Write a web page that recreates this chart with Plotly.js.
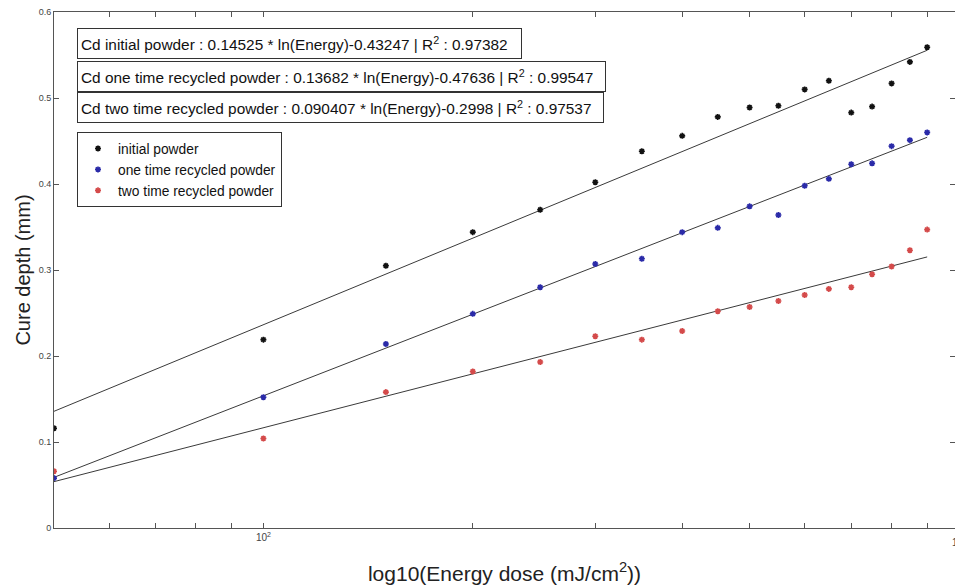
<!DOCTYPE html>
<html>
<head>
<meta charset="utf-8">
<script src="https://cdn.plot.ly/plotly-3.0.1.min.js"></script>
<style>html,body{margin:0;padding:0;background:#fff;overflow:hidden;}#chart{width:955px;height:586px;}</style>
</head>
<body>
<div id="chart"></div>
<script>
// Energy dose (mJ/cm2)
const energy = [50,100,150,200,250,300,350,400,450,500,550,600,650,700,750,800,850,900];
// Cure depth (mm)
const initialPowder = [0.116,0.219,0.305,0.344,0.370,0.402,0.438,0.456,0.478,0.489,0.491,0.510,0.520,0.483,0.490,0.517,0.542,0.559];
const oneTimeRecycled = [0.058,0.152,0.214,0.249,0.280,0.307,0.313,0.344,0.349,0.374,0.364,0.398,0.406,0.423,0.424,0.444,0.451,0.460];
const twoTimeRecycled = [0.066,0.104,0.158,0.182,0.193,0.223,0.219,0.229,0.252,0.257,0.264,0.271,0.278,0.280,0.295,0.304,0.323,0.347];
// Fit line end points
const fitEnergy = [50,900];
const fitInitial = [0.1357,0.5555];
const fitOne = [0.0589,0.4543];
const fitTwo = [0.0539,0.3152];
// Labels
const seriesNames = ["initial powder","one time recycled powder","two time recycled powder"];
const fitLabels = [
  "Cd initial powder : 0.14525 * ln(Energy)-0.43247 | R<sup>2</sup> : 0.97382",
  "Cd one time recycled powder : 0.13682 * ln(Energy)-0.47636 | R<sup>2</sup> : 0.99547",
  "Cd two time recycled powder : 0.090407 * ln(Energy)-0.2998 | R<sup>2</sup> : 0.97537"
];
const xTickVals = [100];
const xTickText = ["10<sup>2</sup>"];
const xEdgeLabel = "10<sup>3</sup>";
const xMinorVals = [60,70,80,90,200,300,400,500,600,700,800,900];
const yTickVals = [0,0.1,0.2,0.3,0.4,0.5,0.6];
const yTickText = ["0","0.1","0.2","0.3","0.4","0.5","0.6"];

const fitLine = {color:'#3a3a3a', width:1};
const mk = (c) => ({symbol:'asterisk-open', size:5, color:c, line:{color:c, width:1.6}});

const traces = [
  {x:fitEnergy, y:fitInitial, mode:'lines', line:fitLine, showlegend:false, hoverinfo:'skip'},
  {x:fitEnergy, y:fitOne, mode:'lines', line:fitLine, showlegend:false, hoverinfo:'skip'},
  {x:fitEnergy, y:fitTwo, mode:'lines', line:fitLine, showlegend:false, hoverinfo:'skip'},
  {x:energy, y:initialPowder, mode:'markers', name:seriesNames[0], marker:mk('#111111')},
  {x:energy, y:oneTimeRecycled, mode:'markers', name:seriesNames[1], marker:mk('#2a2aa8')},
  {x:energy, y:twoTimeRecycled, mode:'markers', name:seriesNames[2], marker:mk('#d44a4a')}
];

const boxW = [437, 521, 519];
const boxTop = [28, 61, 92];
const annotations = fitLabels.map((t,i) => ({
  text:t, xref:'paper', yref:'paper',
  x:(77-54)/901, y:(528-boxTop[i])/516, xanchor:'left', yanchor:'top',
  showarrow:false, align:'left', width:boxW[i], height:23,
  bordercolor:'#333', borderwidth:1, borderpad:3, bgcolor:'#ffffff',
  font:{family:'Liberation Sans, Arial, sans-serif', size:15.4, color:'#111'}
}));
// decade label at 10^3, which lies just past the right edge of the picture
annotations.push({text:xEdgeLabel, xref:'paper', yref:'paper', x:(959-54)/901, y:-0.012,
  xanchor:'center', yanchor:'top', showarrow:false, font:{size:10, color:'#444'}});

// 10^3 sits 4px beyond the right edge of the 955px picture
const xEnd = 2 + (955-263)/696;

const layout = {
  width:955, height:586,
  margin:{l:54, r:0, t:12, b:58, autoexpand:false},
  paper_bgcolor:'#ffffff', plot_bgcolor:'#ffffff',
  font:{family:'Liberation Sans, Arial, sans-serif', color:'#222'},
  showlegend:true,
  legend:{x:(77-54)/901, y:(528-132)/516, xanchor:'left', yanchor:'top',
    bordercolor:'#333', borderwidth:1, bgcolor:'#ffffff',
    font:{size:13.8, color:'#111'}, tracegroupgap:0, itemwidth:30},
  xaxis:{type:'log', range:[Math.log10(50), xEnd], showgrid:false, zeroline:false, automargin:false,
    showline:true, linecolor:'#555', linewidth:1, mirror:'ticks',
    ticks:'inside', ticklen:5, tickcolor:'#555',
    tickvals:xTickVals, ticktext:xTickText,
    minor:{tickvals:xMinorVals, ticks:'inside', ticklen:5, tickcolor:'#555', showgrid:false},
    tickfont:{size:10, color:'#444'},
    title:{text:'log10(Energy dose (mJ/cm<sup>2</sup>))', font:{size:21, color:'#222'}, standoff:24}},
  yaxis:{range:[0,0.6], showgrid:false, zeroline:false, automargin:false,
    showline:true, linecolor:'#555', linewidth:1, mirror:'ticks',
    ticks:'inside', ticklen:5, tickcolor:'#555',
    tickvals:yTickVals, ticktext:yTickText,
    tickfont:{size:9, color:'#444'},
    title:{text:'Cure depth (mm)', font:{size:20, color:'#222'}, standoff:2}},
  annotations:annotations
};

Plotly.newPlot('chart', traces, layout, {displayModeBar:false, staticPlot:true});
</script>
</body>
</html>
